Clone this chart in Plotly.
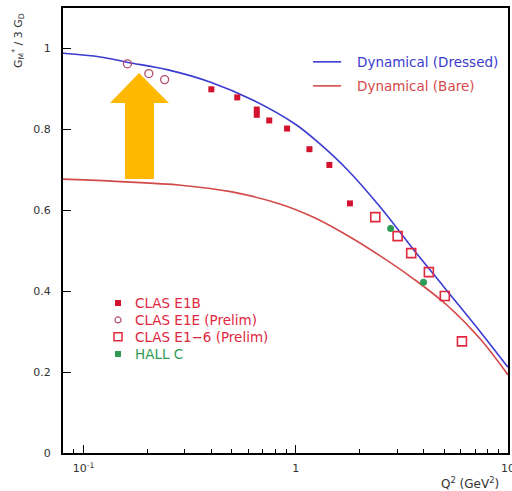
import plotly.graph_objects as go

# --- Data -------------------------------------------------------------
# CLAS E1B
q2_e1b = [0.40, 0.53, 0.655, 0.655, 0.75, 0.91, 1.16, 1.44, 1.80]
g_e1b = [0.899, 0.879, 0.849, 0.836, 0.822, 0.802, 0.751, 0.712, 0.617]

# CLAS E1E (Prelim)
q2_e1e = [0.161, 0.203, 0.241]
g_e1e = [0.962, 0.938, 0.923]

# CLAS E1-6 (Prelim)
q2_e16 = [2.37, 3.02, 3.50, 4.24, 5.04, 6.07]
g_e16 = [0.583, 0.536, 0.494, 0.447, 0.388, 0.276]

# HALL C
q2_hallc = [2.80, 4.00]
g_hallc = [0.555, 0.422]

# Dynamical model, dressed
q2_dressed = [0.08, 0.12, 0.16, 0.25, 0.40, 0.63, 1.0, 1.3, 1.76, 2.5, 3.6, 5.0, 7.4, 10.0]
g_dressed = [0.988, 0.979, 0.966, 0.947, 0.916, 0.872, 0.812, 0.764, 0.699, 0.608,
             0.502, 0.410, 0.300, 0.212]

# Dynamical model, bare
q2_bare = [0.08, 0.287, 0.493, 0.849, 1.22, 1.76, 2.52, 3.6, 5.2, 7.46, 10.0]
g_bare = [0.677, 0.662, 0.646, 0.615, 0.582, 0.537, 0.486, 0.430, 0.364, 0.280, 0.193]

x_tickvals = [0.1, 1, 10]
x_ticktext = ["10<sup>-1</sup>", "1", "10"]
x_minor = [0.09, 0.2, 0.3, 0.4, 0.5, 0.6, 0.7, 0.8, 0.9, 2, 3, 4, 5, 6, 7, 8, 9]
y_tickvals = [0, 0.2, 0.4, 0.6, 0.8, 1]
y_ticktext = ["0", "0.2", "0.4", "0.6", "0.8", "1"]

# --- Styles -----------------------------------------------------------
BLUE = "#3b3bd0"
RED_LINE = "#d44a4a"
RED = "#d3122e"
PINK = "#b0506e"
RED_OPEN = "#e0283f"
GREEN = "#2f9c55"
FONT = "DejaVu Sans"

fig = go.Figure()

fig.add_trace(go.Scatter(x=q2_dressed, y=g_dressed, mode="lines",
                         line=dict(color=BLUE, width=1.6, shape="spline"),
                         showlegend=False))
fig.add_trace(go.Scatter(x=q2_bare, y=g_bare, mode="lines",
                         line=dict(color=RED_LINE, width=1.6, shape="spline"),
                         showlegend=False))
fig.add_trace(go.Scatter(x=q2_e1b, y=g_e1b, mode="markers",
                         marker=dict(symbol="square", size=6, color=RED),
                         showlegend=False))
fig.add_trace(go.Scatter(x=q2_e1e, y=g_e1e, mode="markers",
                         marker=dict(symbol="circle-open", size=8, color=PINK,
                                     line=dict(width=1.3)),
                         showlegend=False))
fig.add_trace(go.Scatter(x=q2_e16, y=g_e16, mode="markers",
                         marker=dict(symbol="square-open", size=9, color=RED_OPEN,
                                     line=dict(width=1.6)),
                         showlegend=False))
fig.add_trace(go.Scatter(x=q2_hallc, y=g_hallc, mode="markers",
                         marker=dict(symbol="circle", size=7, color=GREEN),
                         showlegend=False))

# Legend keys for the markers, drawn on a hidden 0..1 overlay
key_x = 0.1236
key_rows = [0.337, 0.299, 0.261, 0.2225]
key_styles = [
    dict(symbol="square", size=6, color=RED),
    dict(symbol="circle-open", size=6, color=PINK, line=dict(width=1.2)),
    dict(symbol="square-open", size=8, color=RED_OPEN, line=dict(width=1.5)),
    dict(symbol="square", size=6, color=GREEN),
]
for yk, st in zip(key_rows, key_styles):
    fig.add_trace(go.Scatter(x=[key_x], y=[yk], mode="markers", marker=st,
                             xaxis="x2", yaxis="y2", showlegend=False,
                             hoverinfo="skip"))

key_labels = ["CLAS E1B", "CLAS E1E (Prelim)", "CLAS E1\u22126 (Prelim)", "HALL C"]
key_colors = [RED_OPEN, RED_OPEN, RED_OPEN, GREEN]
annotations = []
for yk, lab, col in zip(key_rows, key_labels, key_colors):
    annotations.append(dict(x=0.1573, y=yk, xref="paper", yref="paper", text=lab,
                            showarrow=False, xanchor="left", yanchor="middle",
                            font=dict(family=FONT, size=13.5, color=col)))

# Legend for the model curves
shapes = []
for yk, col, lab in [(0.879, BLUE, "Dynamical (Dressed)"),
                     (0.825, RED_LINE, "Dynamical (Bare)")]:
    shapes.append(dict(type="line", xref="paper", yref="paper",
                       x0=0.562, x1=0.625, y0=yk, y1=yk,
                       line=dict(color=col, width=1.6)))
    annotations.append(dict(x=0.657, y=yk, xref="paper", yref="paper", text=lab,
                            showarrow=False, xanchor="left", yanchor="middle",
                            font=dict(family=FONT, size=13.5, color=col)))

# Orange arrow
shapes.append(dict(type="path", xref="paper", yref="paper", layer="above",
                   path=("M 0.1708 0.8539 L 0.2382 0.7865 L 0.2045 0.7865 "
                         "L 0.2045 0.6157 L 0.1393 0.6157 L 0.1393 0.7865 "
                         "L 0.1056 0.7865 Z"),
                   fillcolor="#ffb800", line=dict(width=0)))

# Axis titles
annotations.append(dict(x=-0.101, y=0.926, xref="paper", yref="paper",
                        text="G<sub>M</sub><sup>*</sup> / 3 G<sub>D</sub>",
                        textangle=-90, showarrow=False,
                        xanchor="center", yanchor="middle",
                        font=dict(family=FONT, size=11, color="#333")))
annotations.append(dict(x=0.915, y=-0.0674, xref="paper", yref="paper",
                        text="Q<sup>2</sup> (GeV<sup>2</sup>)", showarrow=False,
                        xanchor="center", yanchor="middle",
                        font=dict(family=FONT, size=12, color="#333")))

fig.update_layout(
    width=512, height=491,
    margin=dict(l=63, r=4, t=8, b=38, autoexpand=False),
    paper_bgcolor="white", plot_bgcolor="white",
    font=dict(family=FONT, size=11, color="#333"),
    xaxis=dict(type="log", range=[-1.0969, 1.0002], automargin=False,
               tickmode="array", tickvals=x_tickvals, ticktext=x_ticktext,
               ticks="inside", ticklen=8, tickwidth=1, tickcolor="black",
               ticklabeloverflow="allow",
               minor=dict(tickmode="array", tickvals=x_minor, ticks="inside",
                          ticklen=4, tickcolor="black", showgrid=False),
               showline=True, linecolor="black", linewidth=2, mirror=True,
               showgrid=False, zeroline=False, ticklabelstandoff=4),
    yaxis=dict(range=[0, 1.1], tickmode="array", tickvals=y_tickvals,
               ticktext=y_ticktext, automargin=False,
               ticks="inside", ticklen=8, tickwidth=1, tickcolor="black",
               showline=True, linecolor="black", linewidth=2, mirror=True,
               showgrid=False, zeroline=False, ticklabelstandoff=8),
    xaxis2=dict(overlaying="x", range=[0, 1], visible=False),
    yaxis2=dict(overlaying="y", range=[0, 1], visible=False),
    shapes=shapes,
    annotations=annotations,
)

fig.write_html("out.html")
